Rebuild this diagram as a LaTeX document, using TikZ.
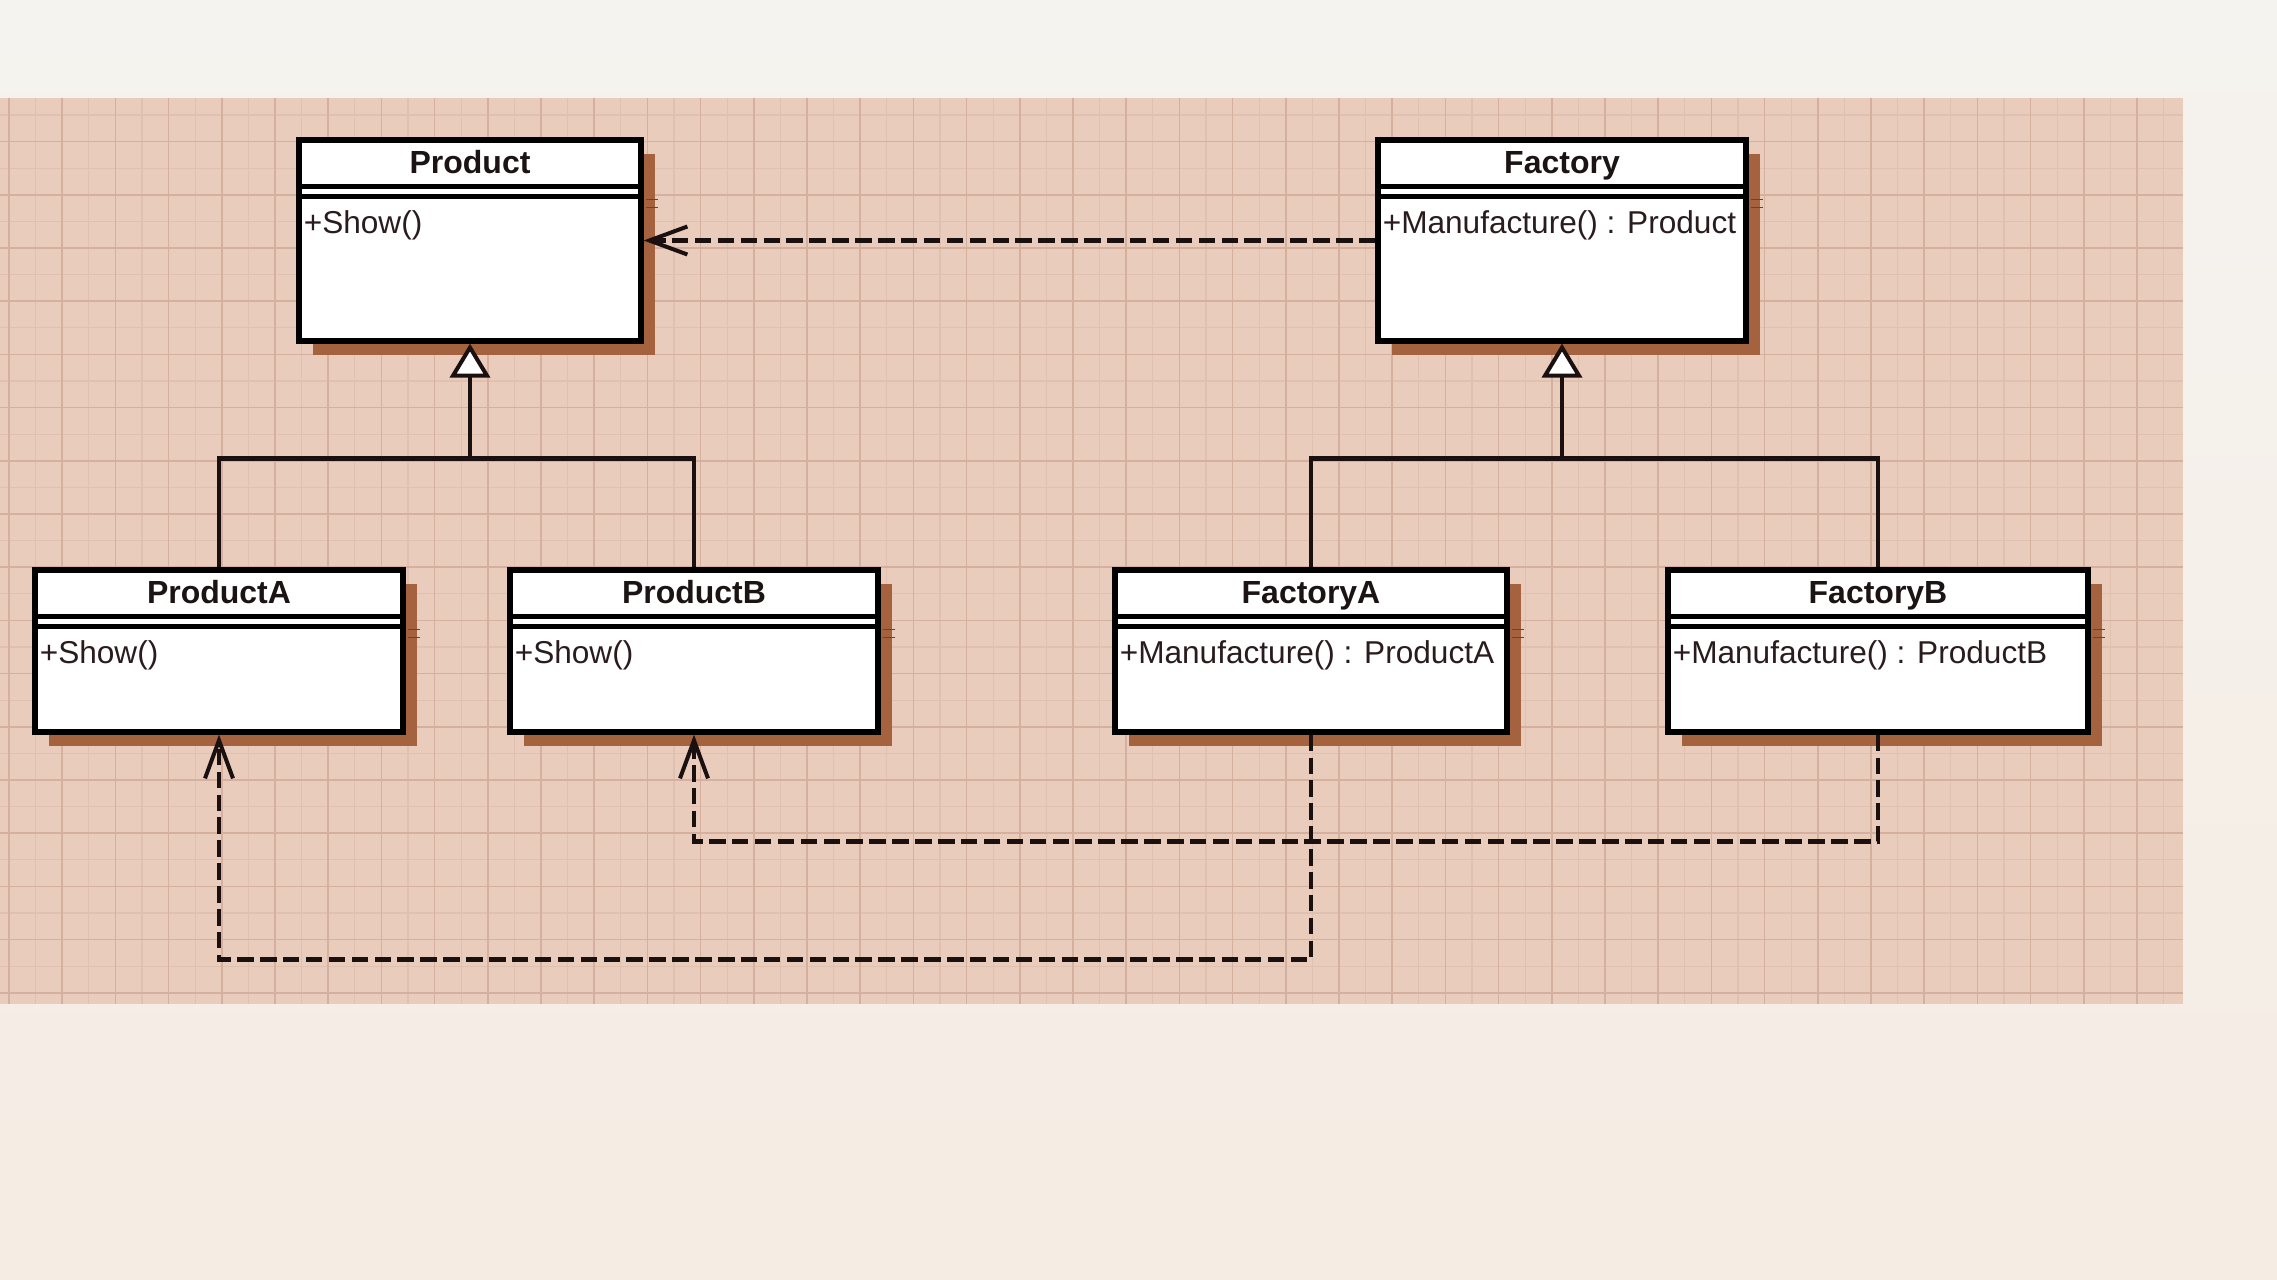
\documentclass[tikz,border=0pt]{standalone}
\usepackage{fontspec}
\setmainfont{Liberation Sans}
\usetikzlibrary{arrows.meta,shadows,calc}
\definecolor{bgtop}{HTML}{F5F3EF}
\definecolor{bgbot}{HTML}{F5ECE3}
\definecolor{gridbg}{HTML}{EACCBC}
\definecolor{gridmaj}{HTML}{D6B09E}
\definecolor{gridmin}{HTML}{E0C0AF}
\definecolor{shadowc}{HTML}{A4623E}
\definecolor{tickc}{HTML}{7A3D22}
\definecolor{titlec}{HTML}{1C1414}
\definecolor{methc}{HTML}{2A1C1E}
\definecolor{linec}{HTML}{1A1010}
\tikzset{
  classbox/.style={draw=black, line width=2.6pt, fill=white, inner sep=0pt,
    drop shadow={shadow xshift=7pt, shadow yshift=-7pt, fill=shadowc, opacity=1}},
  sepline/.style={draw=black, line width=2.5pt},
  shtick/.style={draw=tickc, line width=0.8pt},
  titletext/.style={inner sep=0pt, text=titlec, font=\fontsize{16}{18}\selectfont\bfseries},
  methtext/.style={inner sep=0pt, text=methc, font=\fontsize{15.8}{18}\selectfont},
  gridmajor/.style={draw=gridmaj, line width=0.8pt},
  gridminor/.style={draw=gridmin, line width=0.6pt},
  conn/.style={draw=linec, line width=2.2pt},
  inh/.style={conn, -{Triangle[length=17pt, width=20pt, fill=white, line width=2pt]}},
  dep/.style={conn, dash pattern=on 8.25pt off 3.2pt,
    -{Straight Barb[length=19pt, width=14pt, line width=2pt]}}
}
\newcommand\umlcls[7]{%
  \node[classbox, minimum width=#4, minimum height=#5] (#1) at (#2,#3) {};
  \draw[sepline] ([yshift=-24.5pt]#1.north west) -- ([yshift=-24.5pt]#1.north east);
  \draw[sepline] ([yshift=-29.75pt]#1.north west) -- ([yshift=-29.75pt]#1.north east);
  \draw[shtick] ([xshift=1.3pt,yshift=-31pt]#1.north east) -- ++(5.7pt,0pt);
  \draw[shtick] ([xshift=1.3pt,yshift=-35pt]#1.north east) -- ++(5.7pt,0pt);
  \node[titletext, anchor=base] (#1-t) at ([yshift=-18pt]#1.north) {#6};
  \node[methtext, anchor=base west] (#1-m) at ([xshift=3.5pt,yshift=-48pt]#1.north west) {#7};
}
\begin{document}
\begin{tikzpicture}[x=0.5pt,y=-0.5pt]
\useasboundingbox (0,0) rectangle (2277,1280);
% background
\fill[top color=bgtop, bottom color=bgbot] (0,0) rectangle (2277,1280);
\fill[gridbg] (0,98) rectangle (2183,1004);
\foreach \i in {0,...,40} \draw[gridminor] ({35.6+\i*53.2},98) -- ({35.6+\i*53.2},1004);
\foreach \j in {0,...,16} \draw[gridminor] (0,{115+\j*53.2}) -- (2183,{115+\j*53.2});
\foreach \i in {0,...,40} \draw[gridmajor] ({9+\i*53.2},98) -- ({9+\i*53.2},1004);
\foreach \j in {0,...,16} \draw[gridmajor] (0,{141.6+\j*53.2}) -- (2183,{141.6+\j*53.2});
% classes
\umlcls{prod}{470}{240.5}{171pt}{100.5pt}{Product}{+Show()}
\umlcls{fac}{1562}{240.5}{184pt}{100.5pt}{Factory}{+Manufacture() : Product}
\umlcls{prodA}{219}{651}{184pt}{81pt}{ProductA}{+Show()}
\umlcls{prodB}{694}{651}{184pt}{81pt}{ProductB}{+Show()}
\umlcls{facA}{1311}{651}{196pt}{81pt}{FactoryA}{+Manufacture() : ProductA}
\umlcls{facB}{1878}{651}{210pt}{81pt}{FactoryB}{+Manufacture() : ProductB}
% inheritance
\path (prod.south) ++(0,115) coordinate (pj);
\path (fac.south) ++(0,115) coordinate (fj);
\draw[conn] (prodA.north) -- (prodA.north |- pj) -- (prodB.north |- pj) -- (prodB.north);
\draw[inh] (pj) -- (prod.south);
\draw[conn] (facA.north) -- (facA.north |- fj) -- (facB.north |- fj) -- (facB.north);
\draw[inh] (fj) -- (fac.south);
% dependencies
\draw[dep] (fac.west) -- (prod.east);
\draw[dep] (facA.south) -- ++(0,225) -| (prodA.south);
\draw[dep] (facB.south) -- ++(0,107) -| (prodB.south);
\end{tikzpicture}
\end{document}
